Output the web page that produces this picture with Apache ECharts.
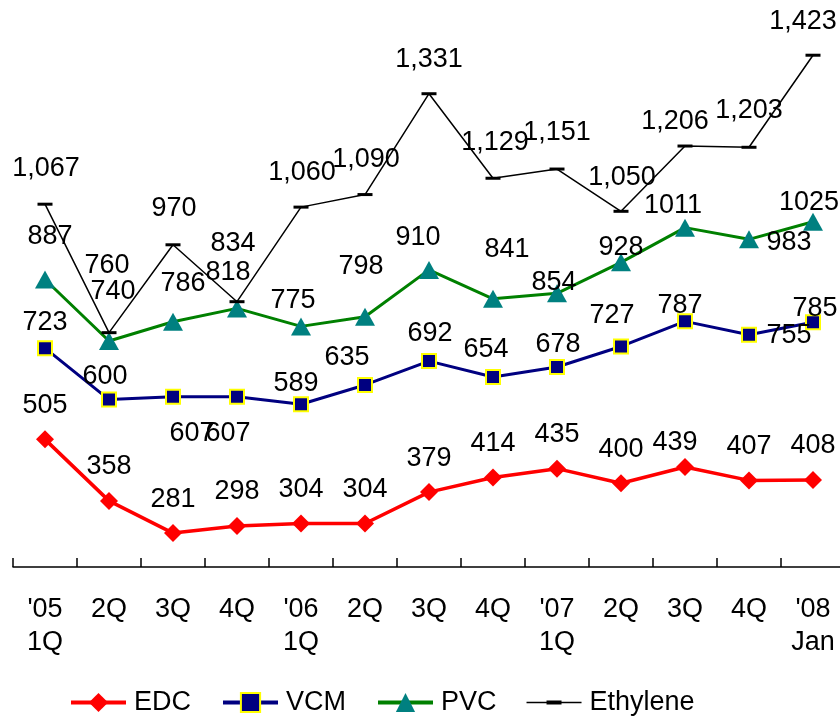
<!DOCTYPE html>
<html>
<head>
<meta charset="utf-8">
<script src="https://cdn.jsdelivr.net/npm/echarts@6/dist/echarts.min.js"></script>
<style>
  html, body { margin: 0; padding: 0; background: #fff; }
  #chart { width: 840px; height: 718px; }
</style>
</head>
<body>
<div id="chart"></div>
<script>
// Quarterly prices
const categories = ["'05\n1Q", "2Q", "3Q", "4Q", "'06\n1Q", "2Q", "3Q", "4Q", "'07\n1Q", "2Q", "3Q", "4Q", "'08\nJan"];
const edc      = [505, 358, 281, 298, 304, 304, 379, 414, 435, 400, 439, 407, 408];
const vcm      = [723, 600, 607, 607, 589, 635, 692, 654, 678, 727, 787, 755, 785];
const pvc      = [887, 740, 786, 818, 775, 798, 910, 841, 854, 928, 1011, 983, 1025];
const ethylene = [1067, 760, 970, 834, 1060, 1090, 1331, 1129, 1151, 1050, 1206, 1203, 1423];

// Label nudges (pixels from each marker centre) so crowded labels stay readable
const edcLabelOffsets = [[0,-34],[0,-34],[0,-34],[0,-34],[0,-34],[0,-34],[0,-34],[0,-34],[0,-34],[0,-34],[-10,-24],[0,-34],[0,-34]];
const vcmLabelOffsets = [[0,-26],[-4,-23],[19,37],[-9,37],[-5,-21],[-18,-27],[1,-28],[-7,-27],[1,-22],[-9,-31],[-5,-16],[40,1],[2,-14]];
const pvcLabelOffsets = [[5,-43],[4,-49],[10,-38],[-9,-36],[-8,-26],[-4,-50],[-11,-32],[14,-49],[-3,-11],[0,-15],[-12,-22],[40,3],[-4,-19]];
const ethLabelOffsets = [[1,-36],[-2,-67],[1,-36],[-4,-58],[1,-35],[1,-35],[0,-34],[2,-36],[0,-36],[1,-34],[-10,-24],[0,-37],[-10,-34]];

const FONT = '"Liberation Sans", Arial, Helvetica, sans-serif';

// Legend glyph for the ethylene line: thin rule with a short dash in the middle
// (two tiny corner specks pin the path's box to the full 55x24 legend cell)
const ETH_LEGEND_ICON = 'path://M0,0h0.05v0.05h-0.05Z M54.95,23.95h0.05v0.05h-0.05Z M0,11.25H55V12.75H0Z M20,10H35V14H20Z';

function withLabels(values, offsets) {
  return values.map((v, i) => ({ value: v, label: { offset: offsets[i] } }));
}

function lineSeries(name, values, offsets, style) {
  return {
    name: name,
    type: 'line',
    data: withLabels(values, offsets),
    showSymbol: true,
    showAllSymbol: true,
    symbol: style.symbol,
    symbolSize: style.symbolSize,
    itemStyle: style.itemStyle,
    lineStyle: { color: style.lineColor, width: style.lineWidth },
    label: {
      show: true,
      position: 'inside',
      color: '#000',
      textBorderWidth: 0,
      fontFamily: FONT,
      fontSize: 27,
      formatter: style.formatter
    },
    emphasis: { disabled: true },
    z: style.z
  };
}

const chart = echarts.init(document.getElementById('chart'), null, { renderer: 'canvas' });

chart.setOption({
  animation: false,
  backgroundColor: '#fff',
  textStyle: { fontFamily: FONT },
  grid: { left: 13, width: 832, top: 23, bottom: 151, containLabel: false, outerBoundsMode: 'none' },
  legend: {
    left: 69,
    top: 689,
    padding: 0,
    itemWidth: 55,
    itemHeight: 24,
    itemGap: 30,
    textStyle: { fontFamily: FONT, fontSize: 27, color: '#000', padding: [0, 0, 0, 3] },
    data: [
      { name: 'EDC', lineStyle: { width: 4 } },
      { name: 'VCM', lineStyle: { width: 4 } },
      { name: 'PVC', lineStyle: { width: 4 } },
      { name: 'Ethylene', icon: ETH_LEGEND_ICON, itemStyle: { color: '#000', borderWidth: 0 } }
    ]
  },
  xAxis: {
    type: 'category',
    data: categories,
    boundaryGap: true,
    axisLine: { lineStyle: { color: '#000', width: 1.5 } },
    axisTick: { show: true, inside: true, length: 9, interval: 0, lineStyle: { color: '#000', width: 1.5 } },
    axisLabel: {
      interval: 0,
      margin: 26,
      color: '#000',
      fontFamily: FONT,
      fontSize: 27,
      lineHeight: 33
    },
    splitLine: { show: false }
  },
  yAxis: {
    type: 'value',
    min: 200,
    max: 1500,
    show: false,
    splitLine: { show: false }
  },
  series: [
    lineSeries('EDC', edc, edcLabelOffsets, {
      symbol: 'diamond', symbolSize: 18,
      itemStyle: { color: '#ff0000' },
      lineColor: '#ff0000', lineWidth: 3.5, z: 2,
      formatter: p => String(p.value)
    }),
    lineSeries('VCM', vcm, vcmLabelOffsets, {
      symbol: 'rect', symbolSize: 14,
      itemStyle: { color: '#000080', borderColor: '#ffff00', borderWidth: 2 },
      lineColor: '#000080', lineWidth: 3, z: 3,
      formatter: p => String(p.value)
    }),
    lineSeries('PVC', pvc, pvcLabelOffsets, {
      symbol: 'triangle', symbolSize: [20, 18],
      itemStyle: { color: '#008080' },
      lineColor: '#008000', lineWidth: 3, z: 4,
      formatter: p => String(p.value)
    }),
    lineSeries('Ethylene', ethylene, ethLabelOffsets, {
      symbol: 'rect', symbolSize: [15, 3],
      itemStyle: { color: '#000' },
      lineColor: '#000', lineWidth: 1.5, z: 5,
      formatter: p => p.value.toLocaleString('en-US')
    })
  ]
});
</script>
</body>
</html>
